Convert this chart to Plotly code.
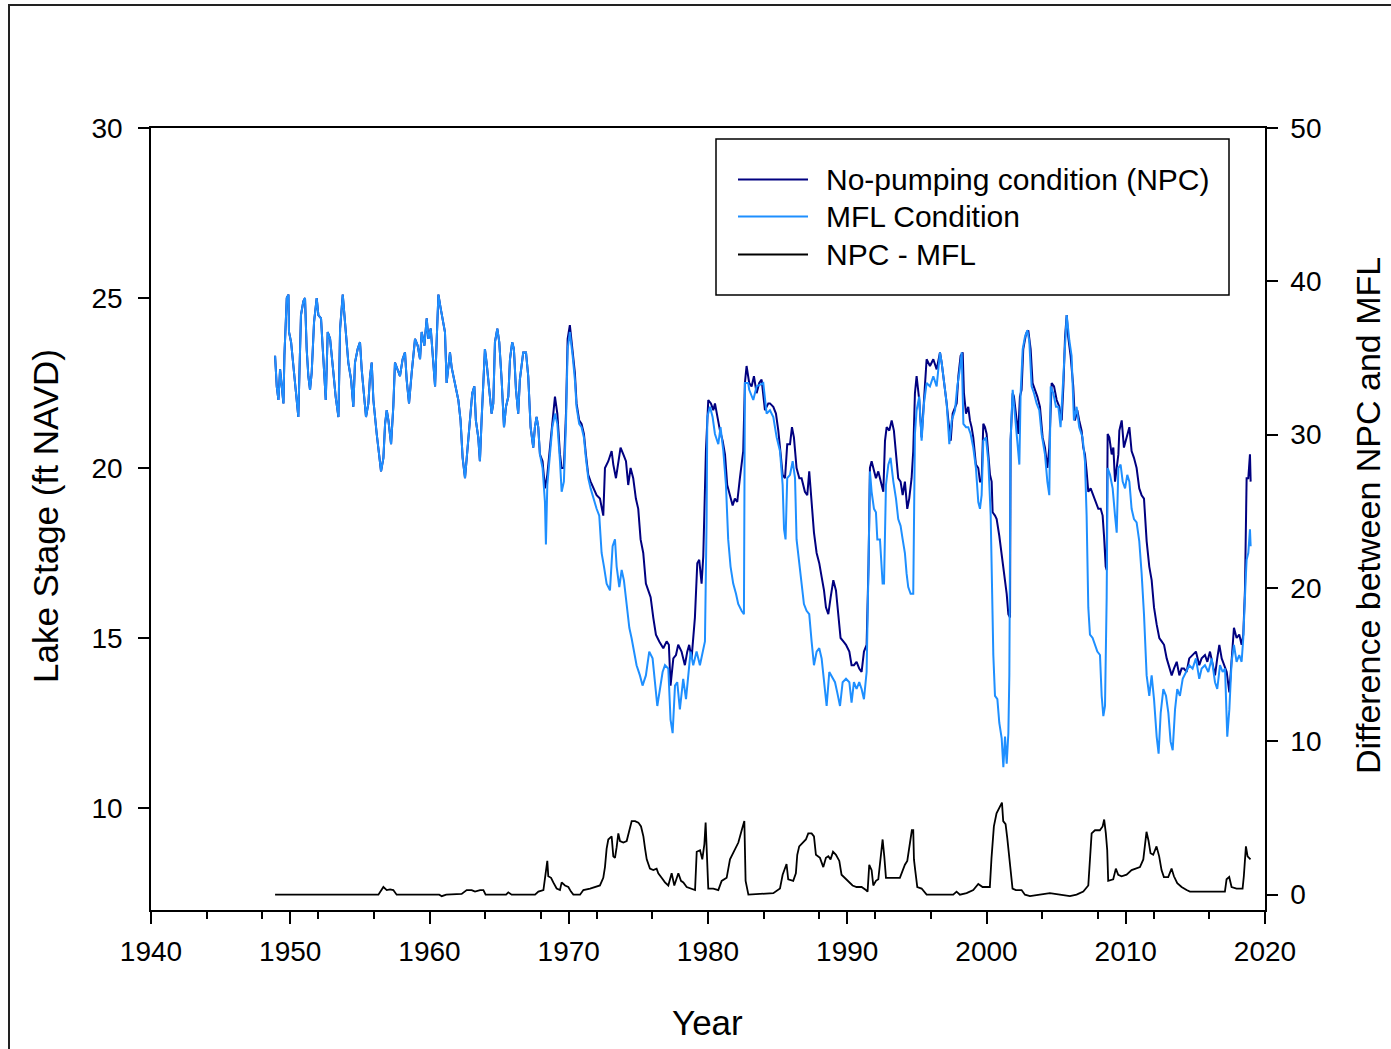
import plotly.graph_objects as go

# ---------------- DATA ----------------
# Period where NPC and MFL coincide (1949-1967)
early_years = [1948.91, 1949.03, 1949.15, 1949.27, 1949.39, 1949.51, 1949.58, 1949.75, 1949.87, 1949.91,
               1950.06, 1950.22, 1950.34, 1950.46, 1950.58, 1950.66, 1950.77, 1950.94, 1951.06, 1951.18,
               1951.30, 1951.42, 1951.54, 1951.71, 1951.90, 1952.02, 1952.21, 1952.38, 1952.55, 1952.69,
               1952.86, 1953.10, 1953.26, 1953.46, 1953.58, 1953.77, 1953.89, 1954.05, 1954.17, 1954.37,
               1954.53, 1954.65, 1954.84, 1955.01, 1955.13, 1955.30, 1955.44, 1955.61, 1955.73, 1955.85,
               1955.97, 1956.21, 1956.38, 1956.52, 1956.69, 1956.81, 1956.93, 1957.05, 1957.24, 1957.40,
               1957.52, 1957.72, 1957.88, 1958.07, 1958.24, 1958.36, 1958.53, 1958.72, 1958.96, 1959.15,
               1959.32, 1959.44, 1959.63, 1959.80, 1959.92, 1960.09, 1960.28, 1960.40, 1960.52, 1960.64,
               1960.80, 1960.99, 1961.11, 1961.23, 1961.35, 1961.47, 1961.59, 1961.76, 1961.90, 1962.07,
               1962.23, 1962.38, 1962.55, 1962.66, 1962.78, 1962.90, 1963.07, 1963.22, 1963.33, 1963.50,
               1963.62, 1963.74, 1963.86, 1963.98, 1964.10, 1964.29, 1964.46, 1964.58, 1964.70, 1964.87,
               1965.01, 1965.18, 1965.35, 1965.49, 1965.66, 1965.78, 1965.94, 1966.06, 1966.21, 1966.37,
               1966.49, 1966.73, 1966.93, 1967.09, 1967.26, 1967.45]
early_stage = [23.3, 22.4, 22.0, 22.9, 22.4, 21.9, 23.3, 25.0, 25.1, 24.0,
               23.7, 23.0, 22.4, 21.8, 21.5, 22.8, 24.5, 24.9, 25.0, 23.5,
               22.7, 22.3, 22.8, 24.3, 25.0, 24.5, 24.4, 23.2, 22.0, 24.0,
               23.8, 22.8, 22.1, 21.5, 24.1, 25.1, 24.4, 23.7, 23.1, 22.6,
               21.8, 23.1, 23.5, 23.7, 22.9, 22.1, 21.5, 21.9, 22.7, 23.1,
               22.0, 21.0, 20.4, 19.9, 20.3, 21.3, 21.7, 21.4, 20.7, 21.8,
               23.1, 22.9, 22.7, 23.2, 23.4, 22.6, 21.9, 22.8, 23.8, 23.6,
               23.2, 24.0, 23.6, 24.4, 23.8, 24.1, 23.1, 22.4, 23.8, 25.1,
               24.7, 24.3, 24.0, 22.5, 22.9, 23.4, 22.96, 22.6, 22.3, 22.0,
               21.4, 20.3, 19.7, 20.2, 20.9, 21.3, 22.2, 22.4, 21.4, 20.9,
               20.2, 21.4, 22.3, 23.5, 23.1, 22.3, 21.6, 21.9, 23.7, 24.1,
               23.7, 22.6, 21.2, 21.8, 22.1, 23.2, 23.7, 23.5, 22.3, 21.6,
               22.6, 23.4, 23.4, 22.7, 21.2, 20.6]

# No-pumping condition after 1967
npc_years = [1967.57, 1967.69, 1967.81, 1967.93, 1968.12, 1968.29, 1968.46, 1968.65, 1968.82, 1969.01,
             1969.18, 1969.37, 1969.49, 1969.65, 1969.80, 1969.92, 1970.08, 1970.28, 1970.44, 1970.56,
             1970.75, 1970.92, 1971.09, 1971.23, 1971.40, 1971.57, 1971.76, 1972.00, 1972.24, 1972.48,
             1972.60, 1972.84, 1973.08, 1973.20, 1973.39, 1973.56, 1973.72, 1973.92, 1974.11, 1974.27,
             1974.44, 1974.63, 1974.82, 1974.99, 1975.16, 1975.35, 1975.54, 1975.71, 1975.88, 1976.07,
             1976.26, 1976.50, 1976.79, 1977.03, 1977.19, 1977.31, 1977.51, 1977.70, 1977.86, 1978.10,
             1978.34, 1978.51, 1978.65, 1978.82, 1979.06, 1979.23, 1979.37, 1979.54, 1979.66, 1979.85,
             1980.02, 1980.21, 1980.38, 1980.50, 1980.66, 1980.86, 1981.05, 1981.22, 1981.38, 1981.57,
             1981.77, 1981.93, 1982.10, 1982.29, 1982.53, 1982.65, 1982.77, 1982.96, 1983.13, 1983.30,
             1983.49, 1983.68, 1983.85, 1984.09, 1984.33, 1984.45, 1984.69, 1984.88, 1985.05, 1985.22,
             1985.36, 1985.53, 1985.69, 1985.89, 1986.03, 1986.17, 1986.36, 1986.56, 1986.72, 1986.96,
             1987.13, 1987.27, 1987.44, 1987.61, 1987.80, 1987.99, 1988.16, 1988.33, 1988.47, 1988.64,
             1988.81, 1989.00, 1989.19, 1989.36, 1989.52, 1989.72, 1989.91, 1990.15, 1990.31, 1990.48,
             1990.67, 1990.86, 1991.03, 1991.20, 1991.39, 1991.53, 1991.63, 1991.75, 1991.92, 1992.06,
             1992.23, 1992.40, 1992.59, 1992.71, 1992.83, 1993.02, 1993.19, 1993.35, 1993.50, 1993.66,
             1993.83, 1993.98, 1994.14, 1994.31, 1994.45, 1994.62, 1994.74, 1994.86, 1994.98, 1995.17,
             1995.34, 1995.51, 1995.70, 1995.94, 1996.18, 1996.42, 1996.66, 1996.78, 1996.95, 1997.14,
             1997.26, 1997.43, 1997.57, 1997.74, 1997.86, 1997.98, 1998.14, 1998.29, 1998.38, 1998.53,
             1998.69, 1998.81, 1998.93, 1999.05, 1999.24, 1999.41, 1999.53, 1999.65, 1999.77, 1999.89,
             2000.01, 2000.13, 2000.25, 2000.37, 2000.44, 2000.61, 2000.73, 2000.92, 2001.09, 2001.21,
             2001.33, 2001.45, 2001.57, 2001.69, 2001.73, 2001.88, 2001.97, 2002.12, 2002.28, 2002.40,
             2002.52, 2002.64, 2002.84, 2003.00, 2003.17, 2003.31, 2003.48, 2003.65, 2003.84, 2004.03,
             2004.20, 2004.37, 2004.51, 2004.68, 2004.85, 2005.04, 2005.23, 2005.40, 2005.52, 2005.64,
             2005.76, 2005.87, 2006.04, 2006.23, 2006.35, 2006.52, 2006.66, 2006.83, 2006.95, 2007.07,
             2007.19, 2007.31, 2007.48, 2007.67, 2007.86, 2008.03, 2008.20, 2008.34, 2008.44, 2008.56,
             2008.63, 2008.70, 2008.82, 2008.99, 2009.11, 2009.23, 2009.47, 2009.54, 2009.71, 2009.87,
             2010.06, 2010.26, 2010.42, 2010.59, 2010.78, 2010.97, 2011.14, 2011.31, 2011.50, 2011.69,
             2011.86, 2012.03, 2012.22, 2012.41, 2012.58, 2012.75, 2012.94, 2013.13, 2013.30, 2013.46,
             2013.66, 2013.85, 2014.01, 2014.18, 2014.37, 2014.56, 2014.80, 2015.04, 2015.28, 2015.45,
             2015.69, 2015.86, 2016.05, 2016.24, 2016.41, 2016.57, 2016.72, 2016.89, 2017.05, 2017.25,
             2017.44, 2017.60, 2017.77, 2017.96, 2018.15, 2018.32, 2018.44, 2018.56, 2018.68, 2018.80,
             2018.92, 2018.97]
npc_stage = [21.2, 21.5, 21.2, 20.4, 20.2, 19.4, 19.8, 20.6, 21.4, 22.1,
             21.6, 20.4, 20.0, 20.0, 21.6, 23.8, 24.2, 23.4, 22.8, 21.9,
             21.4, 21.3, 21.0, 20.4, 19.8, 19.6, 19.4, 19.2, 19.1, 18.6,
             20.0, 20.2, 20.5, 20.1, 19.7, 20.2, 20.6, 20.4, 20.2, 19.5,
             20.0, 19.7, 19.1, 18.8, 17.9, 17.5, 16.6, 16.4, 16.2, 15.6,
             15.1, 14.9, 14.7, 14.9, 14.8, 13.6, 14.4, 14.5, 14.8, 14.6,
             14.2, 14.6, 14.8, 14.4, 15.6, 17.2, 17.3, 16.6, 17.4, 20.5,
             22.0, 21.9, 21.7, 21.9, 21.5, 21.1, 20.8, 20.4, 19.5, 19.2,
             18.9, 19.1, 19.0, 19.7, 20.5, 22.5, 23.0, 22.5, 22.4, 22.7,
             22.2, 22.5, 22.6, 21.7, 21.9, 21.9, 21.8, 21.6, 21.1, 20.4,
             19.8, 19.7, 20.7, 20.7, 21.2, 20.9, 20.0, 19.7, 19.7, 19.3,
             19.2, 19.9, 18.9, 18.1, 17.5, 17.2, 16.8, 16.4, 15.9, 15.7,
             16.2, 16.7, 16.4, 15.6, 15.0, 14.9, 14.8, 14.6, 14.2, 14.2,
             14.3, 14.1, 14.0, 14.6, 14.8, 17.2, 20.0, 20.2, 19.9, 19.7,
             19.9, 19.6, 19.3, 20.8, 21.2, 21.1, 21.4, 21.1, 20.4, 19.7,
             19.6, 19.2, 19.6, 18.8, 19.1, 19.7, 20.5, 22.2, 22.7, 22.0,
             20.9, 22.0, 23.2, 23.0, 23.2, 22.9, 23.4, 23.1, 22.6, 21.9,
             21.4, 20.8, 21.6, 21.8, 21.9, 22.7, 23.3, 23.4, 22.2, 21.6,
             21.8, 21.4, 21.2, 20.9, 20.1, 20.0, 19.6, 19.6, 21.3, 21.2,
             21.0, 20.4, 19.8, 19.6, 18.7, 18.6, 18.5, 18.0, 17.5, 17.0,
             16.7, 16.3, 15.7, 15.6, 20.8, 22.2, 22.1, 21.6, 21.0, 22.1,
             22.3, 23.5, 23.95, 24.05, 23.5, 22.5, 22.3, 22.1, 21.8, 20.9,
             20.6, 20.0, 20.6, 22.5, 22.4, 22.0, 21.8, 21.4, 22.4, 23.85,
             24.5, 23.85, 23.3, 22.4, 21.4, 21.7, 21.4, 21.1, 20.6, 20.4,
             19.9, 19.3, 19.4, 19.2, 19.0, 18.8, 18.8, 18.6, 18.0, 17.1,
             17.0, 21.0, 20.9, 20.4, 20.6, 19.6, 20.4, 21.1, 21.4, 20.6,
             20.9, 21.2, 20.5, 20.3, 20.0, 19.4, 19.2, 19.1, 17.85, 17.1,
             16.7, 15.9, 15.4, 15.0, 14.9, 14.8, 14.4, 14.1, 13.9, 14.1,
             14.3, 13.9, 14.1, 14.1, 14.0, 14.4, 14.5, 14.6, 14.2, 14.4,
             14.5, 14.3, 14.6, 14.2, 13.9, 14.4, 14.8, 14.4, 14.2, 14.0,
             13.4, 14.5, 15.3, 15.0, 15.1, 14.8, 15.1, 16.4, 19.7, 19.7,
             20.4, 19.6]

# MFL condition after 1967
mfl_years = [1967.57, 1967.69, 1967.81, 1967.93, 1968.12, 1968.29, 1968.36, 1968.46, 1968.65, 1968.82,
             1969.01, 1969.18, 1969.37, 1969.49, 1969.65, 1969.80, 1969.92, 1970.08, 1970.28, 1970.44,
             1970.56, 1970.75, 1970.92, 1971.09, 1971.23, 1971.40, 1971.57, 1971.76, 1972.00, 1972.19,
             1972.36, 1972.53, 1972.72, 1972.96, 1973.15, 1973.32, 1973.44, 1973.63, 1973.80, 1973.96,
             1974.15, 1974.35, 1974.51, 1974.68, 1974.87, 1975.11, 1975.30, 1975.54, 1975.78, 1976.02,
             1976.19, 1976.36, 1976.55, 1976.74, 1976.91, 1977.15, 1977.31, 1977.46, 1977.63, 1977.79,
             1977.98, 1978.22, 1978.42, 1978.58, 1978.75, 1978.94, 1979.18, 1979.42, 1979.61, 1979.78,
             1979.90, 1979.95, 1980.14, 1980.33, 1980.50, 1980.74, 1980.90, 1981.10, 1981.29, 1981.45,
             1981.62, 1981.81, 1982.01, 1982.17, 1982.41, 1982.58, 1982.65, 1982.89, 1982.96, 1983.25,
             1983.49, 1983.97, 1984.21, 1984.45, 1984.69, 1984.93, 1985.17, 1985.36, 1985.46, 1985.57,
             1985.69, 1985.89, 1986.08, 1986.25, 1986.36, 1986.56, 1986.72, 1986.89, 1987.08, 1987.27,
             1987.44, 1987.61, 1987.80, 1987.99, 1988.16, 1988.33, 1988.52, 1988.71, 1988.95, 1989.12,
             1989.28, 1989.48, 1989.67, 1989.91, 1990.15, 1990.31, 1990.48, 1990.67, 1990.86, 1991.03,
             1991.20, 1991.39, 1991.53, 1991.63, 1991.75, 1991.92, 1992.06, 1992.16, 1992.35, 1992.54,
             1992.64, 1992.78, 1992.95, 1993.11, 1993.31, 1993.50, 1993.66, 1993.83, 1993.98, 1994.14,
             1994.26, 1994.38, 1994.55, 1994.74, 1994.86, 1994.98, 1995.17, 1995.34, 1995.51, 1995.70,
             1995.94, 1996.18, 1996.42, 1996.66, 1996.78, 1996.95, 1997.14, 1997.33, 1997.50, 1997.74,
             1997.90, 1998.05, 1998.22, 1998.34, 1998.53, 1998.69, 1998.86, 1999.05, 1999.24, 1999.41,
             1999.53, 1999.65, 1999.77, 1999.96, 2000.13, 2000.30, 2000.37, 2000.49, 2000.61, 2000.78,
             2000.92, 2001.09, 2001.21, 2001.33, 2001.45, 2001.57, 2001.64, 2001.73, 2001.88, 2002.05,
             2002.21, 2002.36, 2002.45, 2002.60, 2002.76, 2002.93, 2003.07, 2003.24, 2003.41, 2003.60,
             2003.79, 2003.96, 2004.20, 2004.37, 2004.51, 2004.61, 2004.80, 2004.99, 2005.16, 2005.32,
             2005.47, 2005.64, 2005.76, 2005.95, 2006.11, 2006.28, 2006.47, 2006.66, 2006.90, 2007.07,
             2007.19, 2007.31, 2007.43, 2007.62, 2007.79, 2007.96, 2008.15, 2008.27, 2008.39, 2008.51,
             2008.63, 2008.70, 2008.87, 2009.06, 2009.23, 2009.35, 2009.47, 2009.63, 2009.78, 2009.95,
             2010.11, 2010.26, 2010.42, 2010.59, 2010.78, 2010.97, 2011.14, 2011.31, 2011.50, 2011.69,
             2011.86, 2012.03, 2012.22, 2012.36, 2012.51, 2012.70, 2012.89, 2013.06, 2013.22, 2013.37,
             2013.54, 2013.70, 2013.89, 2014.09, 2014.33, 2014.56, 2014.80, 2015.04, 2015.28, 2015.45,
             2015.69, 2015.93, 2016.17, 2016.41, 2016.57, 2016.77, 2016.96, 2017.13, 2017.29, 2017.44,
             2017.60, 2017.77, 2017.96, 2018.15, 2018.32, 2018.44, 2018.61, 2018.68, 2018.80, 2018.92,
             2018.97]
mfl_stage = [21.2, 21.5, 21.2, 20.4, 20.0, 19.0, 17.75, 19.5, 20.5, 21.2,
             21.6, 21.3, 20.2, 19.3, 19.6, 21.3, 23.5, 24.0, 23.3, 22.6,
             21.8, 21.3, 21.2, 20.9, 20.3, 19.7, 19.4, 19.1, 18.8, 18.6,
             17.5, 17.1, 16.6, 16.4, 17.7, 17.9, 17.1, 16.5, 17.0, 16.7,
             16.1, 15.3, 15.0, 14.6, 14.2, 13.9, 13.6, 13.9, 14.6, 14.4,
             13.6, 13.0, 13.5, 14.0, 14.2, 14.1, 12.6, 12.2, 13.6, 13.7,
             12.9, 13.8, 13.2, 14.0, 14.6, 14.2, 14.6, 14.2, 14.6, 14.9,
             18.5, 21.5, 21.8, 21.5, 21.0, 20.7, 21.2, 20.5, 19.5, 17.9,
             17.1, 16.6, 16.3, 16.0, 15.8, 15.7, 22.5, 22.5, 22.3, 22.0,
             22.4, 22.5, 21.6, 21.7, 21.5, 20.9, 20.5, 19.5, 18.2, 17.9,
             19.7, 19.8, 20.2, 19.7, 17.9, 17.1, 16.5, 16.0, 15.8, 15.7,
             14.9, 14.2, 14.6, 14.7, 14.4, 13.7, 13.0, 14.0, 13.8, 13.7,
             13.4, 13.0, 13.7, 13.8, 13.7, 13.1, 13.7, 13.5, 13.7, 13.5,
             13.2, 14.0, 17.2, 19.9, 19.3, 18.8, 18.7, 17.9, 17.9, 16.6,
             16.6, 19.5, 20.1, 20.3, 19.6, 19.1, 18.5, 18.3, 17.9, 17.5,
             16.9, 16.5, 16.3, 16.3, 21.0, 21.7, 22.1, 20.8, 21.9, 22.5,
             22.4, 22.7, 22.4, 23.4, 23.1, 22.6, 21.9, 20.7, 21.4, 21.7,
             22.4, 22.8, 23.4, 21.3, 21.2, 21.2, 21.0, 20.6, 20.0, 19.0,
             18.8, 19.2, 20.8, 20.9, 20.2, 18.6, 16.7, 14.5, 13.3, 13.2,
             12.5, 12.05, 11.2, 12.1, 11.3, 12.2, 13.9, 20.8, 22.3, 21.4,
             20.8, 20.1, 22.2, 23.5, 23.85, 24.05, 23.75, 22.4, 22.2, 21.9,
             21.7, 21.0, 20.4, 19.6, 19.2, 22.4, 22.2, 21.8, 21.8, 21.2,
             22.3, 23.85, 24.5, 23.75, 23.3, 21.4, 21.8, 21.2, 20.9, 20.2,
             18.6, 15.9, 15.1, 15.0, 14.8, 14.6, 14.5, 13.3, 12.7, 13.0,
             16.2, 20.0, 19.8, 19.4, 18.6, 18.1, 20.0, 20.1, 19.6, 19.4,
             19.8, 19.6, 18.8, 18.5, 18.4, 17.85, 16.9, 15.7, 13.9, 13.3,
             13.9, 13.2, 12.1, 11.6, 12.8, 13.5, 13.3, 12.8, 11.95, 11.7,
             12.9, 13.5, 13.3, 13.8, 14.0, 14.2, 14.1, 14.4, 13.8, 14.1,
             14.2, 14.0, 14.4, 13.7, 13.5, 14.2, 14.0, 14.1, 12.1, 12.9,
             14.3, 14.8, 14.3, 14.5, 14.3, 15.0, 16.7, 17.3, 17.5, 18.2,
             17.7]

# NPC - MFL difference (right axis)
diff_years = [1948.91, 1956.33, 1956.69, 1956.93, 1957.17, 1957.40, 1957.64, 1960.70, 1960.88, 1961.20,
              1962.31, 1962.67, 1963.03, 1963.27, 1963.63, 1963.87, 1964.03, 1965.50, 1965.66, 1965.90,
              1967.58, 1967.82, 1968.18, 1968.30, 1968.46, 1968.53, 1968.73, 1968.89, 1969.13, 1969.37,
              1969.49, 1969.73, 1969.97, 1970.16, 1970.33, 1970.81, 1971.05, 1971.53, 1971.89, 1972.24,
              1972.48, 1972.60, 1972.72, 1972.84, 1972.96, 1973.08, 1973.20, 1973.32, 1973.44, 1973.56,
              1973.68, 1973.92, 1974.16, 1974.28, 1974.52, 1974.76, 1975.00, 1975.19, 1975.36, 1975.48,
              1975.60, 1975.83, 1976.07, 1976.31, 1976.43, 1976.67, 1976.91, 1977.15, 1977.39, 1977.58,
              1977.87, 1978.06, 1978.23, 1978.47, 1978.83, 1979.07, 1979.19, 1979.43, 1979.59, 1979.74,
              1979.83, 1979.93, 1980.02, 1980.38, 1980.74, 1980.98, 1981.34, 1981.58, 1981.94, 1982.18,
              1982.42, 1982.61, 1982.70, 1982.90, 1984.69, 1985.17, 1985.36, 1985.53, 1985.64, 1985.76,
              1986.12, 1986.31, 1986.41, 1986.55, 1986.79, 1987.03, 1987.20, 1987.44, 1987.61, 1987.75,
              1988.04, 1988.28, 1988.47, 1988.64, 1988.80, 1988.98, 1989.19, 1989.43, 1989.59, 1989.83,
              1990.07, 1990.38, 1990.67, 1991.03, 1991.34, 1991.46, 1991.58, 1991.75, 1991.87, 1992.06,
              1992.23, 1992.39, 1992.54, 1992.66, 1992.78, 1993.78, 1993.97, 1994.14, 1994.31, 1994.50,
              1994.64, 1994.74, 1994.79, 1994.88, 1995.03, 1995.34, 1995.70, 1997.61, 1997.85, 1998.09,
              1998.57, 1999.05, 1999.41, 1999.72, 2000.24, 2000.36, 2000.53, 2000.72, 2000.91, 2001.01,
              2001.11, 2001.20, 2001.37, 2001.49, 2001.63, 2001.73, 2001.87, 2002.11, 2002.52, 2002.76,
              2003.12, 2003.83, 2004.55, 2005.27, 2005.99, 2006.47, 2006.95, 2007.31, 2007.43, 2007.55,
              2007.79, 2008.14, 2008.34, 2008.45, 2008.57, 2008.67, 2008.74, 2009.10, 2009.29, 2009.46,
              2009.70, 2010.06, 2010.42, 2010.78, 2011.02, 2011.26, 2011.37, 2011.49, 2011.64, 2011.78,
              2011.97, 2012.21, 2012.40, 2012.57, 2012.74, 2013.05, 2013.29, 2013.46, 2013.70, 2014.01,
              2014.37, 2014.61, 2017.12, 2017.24, 2017.43, 2017.60, 2017.96, 2018.39, 2018.48, 2018.63,
              2018.75, 2018.87, 2018.96]
diff_vals = [0.0, 0.0, 0.5, 0.3, 0.35, 0.3, 0.0, 0.0, -0.1, 0.0,
             0.05, 0.3, 0.3, 0.2, 0.3, 0.3, 0.0, 0.0, 0.15, 0.0,
             0.0, 0.2, 0.3, 1.2, 2.2, 1.2, 1.1, 0.8, 0.4, 0.3,
             0.8, 0.6, 0.5, 0.2, 0.0, 0.0, 0.3, 0.4, 0.5, 0.6,
             1.1, 1.8, 3.0, 3.6, 3.7, 3.8, 2.5, 2.4, 3.1, 4.0,
             3.5, 3.4, 3.5, 4.0, 4.8, 4.8, 4.7, 4.45, 3.8, 3.0,
             2.3, 1.7, 1.6, 1.7, 1.4, 1.1, 0.8, 0.6, 1.4, 0.6,
             1.4, 0.9, 0.8, 0.5, 0.4, 0.3, 2.8, 2.9, 2.3, 3.3,
             4.7, 2.9, 0.4, 0.4, 0.3, 0.9, 1.1, 2.3, 2.9, 3.4,
             4.2, 4.8, 0.9, 0.0, 0.1, 0.4, 1.3, 1.8, 2.0, 1.0,
             0.9, 1.4, 2.6, 3.15, 3.4, 3.6, 4.0, 4.0, 3.8, 2.6,
             2.4, 1.8, 2.4, 2.5, 2.3, 2.8, 2.6, 2.2, 1.3, 1.1,
             0.9, 0.6, 0.5, 0.5, 0.3, 0.2, 1.95, 1.6, 0.6, 0.9,
             1.0, 2.5, 3.6, 2.5, 1.1, 1.1, 1.6, 1.95, 2.2, 3.3,
             4.2, 4.2, 2.3, 1.6, 0.5, 0.4, 0.0, 0.0, 0.2, 0.0,
             0.1, 0.3, 0.7, 0.5, 0.5, 2.4, 4.45, 5.3, 5.65, 5.76,
             6.0, 4.8, 4.6, 3.7, 2.4, 1.4, 0.4, 0.3, 0.3, 0.0,
             -0.1, 0.0, 0.1, 0.0, -0.1, 0.0, 0.2, 0.6, 2.0, 4.0,
             4.2, 4.2, 4.45, 4.9, 4.0, 2.9, 0.9, 1.0, 1.7, 1.3,
             1.2, 1.3, 1.6, 1.7, 1.8, 2.3, 3.0, 4.1, 3.5, 2.7,
             2.6, 3.15, 2.5, 1.6, 1.15, 1.15, 1.7, 1.2, 0.75, 0.5,
             0.3, 0.2, 0.2, 1.0, 1.15, 0.5, 0.4, 0.4, 1.2, 3.15,
             2.5, 2.4, 2.3]

series_names = ["No-pumping condition (NPC)", "MFL Condition", "NPC - MFL"]
series_colors = ["#000080", "#1E8FFF", "#000000"]

x_ticks = [1940, 1950, 1960, 1970, 1980, 1990, 2000, 2010, 2020]
y_ticks = [10, 15, 20, 25, 30]
y2_ticks = [0, 10, 20, 30, 40, 50]

# ---------------- FIGURE ----------------
W, H = 1391, 1049
L, R, T, B = 151, 1265, 128, 910  # plot-area pixel box


def px(xp):
    return (xp - L) / (R - L)


def py(yp):
    return (B - yp) / (B - T)


fig = go.Figure()
fig.add_trace(go.Scatter(x=early_years + npc_years, y=early_stage + npc_stage, mode="lines",
                         name=series_names[0], line=dict(color=series_colors[0], width=2),
                         showlegend=False))
fig.add_trace(go.Scatter(x=early_years + mfl_years, y=early_stage + mfl_stage, mode="lines",
                         name=series_names[1], line=dict(color=series_colors[1], width=2),
                         showlegend=False))
fig.add_trace(go.Scatter(x=diff_years, y=diff_vals, mode="lines", yaxis="y2",
                         name=series_names[2], line=dict(color=series_colors[2], width=1.8),
                         showlegend=False))

font_family = "Liberation Sans, Arial, sans-serif"
axis_common = dict(showline=True, linecolor="#000000", linewidth=1.5, showgrid=False,
                   zeroline=False, ticks="outside", tickcolor="#000000", tickwidth=1.5,
                   tickfont=dict(family=font_family, size=28, color="#000000"))

fig.update_layout(
    width=W, height=H,
    margin=dict(l=L, r=W - R, t=T, b=H - B, pad=0),
    paper_bgcolor="white", plot_bgcolor="white",
    font=dict(family=font_family, color="#000000"),
    xaxis=dict(range=[1940, 2020], tickvals=x_ticks, ticklen=12, mirror=True,
               ticklabelstandoff=4,
               minor=dict(dtick=4, tick0=1940, ticks="outside", ticklen=7,
                          tickcolor="#000000", tickwidth=1.5),
               **axis_common),
    yaxis=dict(range=[7, 30], tickvals=y_ticks, ticklen=11, ticklabelstandoff=10,
               **axis_common),
    yaxis2=dict(range=[-1, 50], tickvals=y2_ticks, ticklen=11, overlaying="y", side="right",
                ticklabelstandoff=7, **axis_common),
)

# axis titles
title_font = dict(family=font_family, size=35, color="#000000")
fig.add_annotation(text="Year", xref="paper", yref="paper", x=px(707), y=py(1022),
                   xanchor="center", yanchor="middle", showarrow=False, font=title_font)
fig.add_annotation(text="Lake Stage (ft NAVD)", xref="paper", yref="paper", x=px(45), y=py(516),
                   xanchor="center", yanchor="middle", textangle=-90, showarrow=False, font=title_font)
fig.add_annotation(text="Difference between NPC and MFL", xref="paper", yref="paper",
                   x=px(1368), y=py(516), xanchor="center", yanchor="middle", textangle=-90,
                   showarrow=False, font=dict(family=font_family, size=34, color="#000000"))

# legend box (drawn to match the reference's long sample lines)
fig.add_shape(type="rect", xref="paper", yref="paper", x0=px(716), x1=px(1229), y0=py(295), y1=py(139),
              line=dict(color="#000000", width=1.5), fillcolor="white", layer="above")
legend_rows = [179.5, 216.5, 254.5]
for name, color, yrow in zip(series_names, series_colors, legend_rows):
    fig.add_shape(type="line", xref="paper", yref="paper", x0=px(738), x1=px(808), y0=py(yrow), y1=py(yrow),
                  line=dict(color=color, width=2), layer="above")
    fig.add_annotation(text=name, xref="paper", yref="paper", x=px(824), y=py(yrow),
                       xanchor="left", yanchor="middle", showarrow=False,
                       font=dict(family=font_family, size=30, color="#000000"))

# outer frame of the figure
fig.add_shape(type="line", xref="paper", yref="paper", x0=px(8), x1=px(1391), y0=py(5), y1=py(5),
              line=dict(color="#222222", width=2))
fig.add_shape(type="line", xref="paper", yref="paper", x0=px(9), x1=px(9), y0=py(5), y1=py(1049),
              line=dict(color="#222222", width=2))

fig.write_html("out.html")
